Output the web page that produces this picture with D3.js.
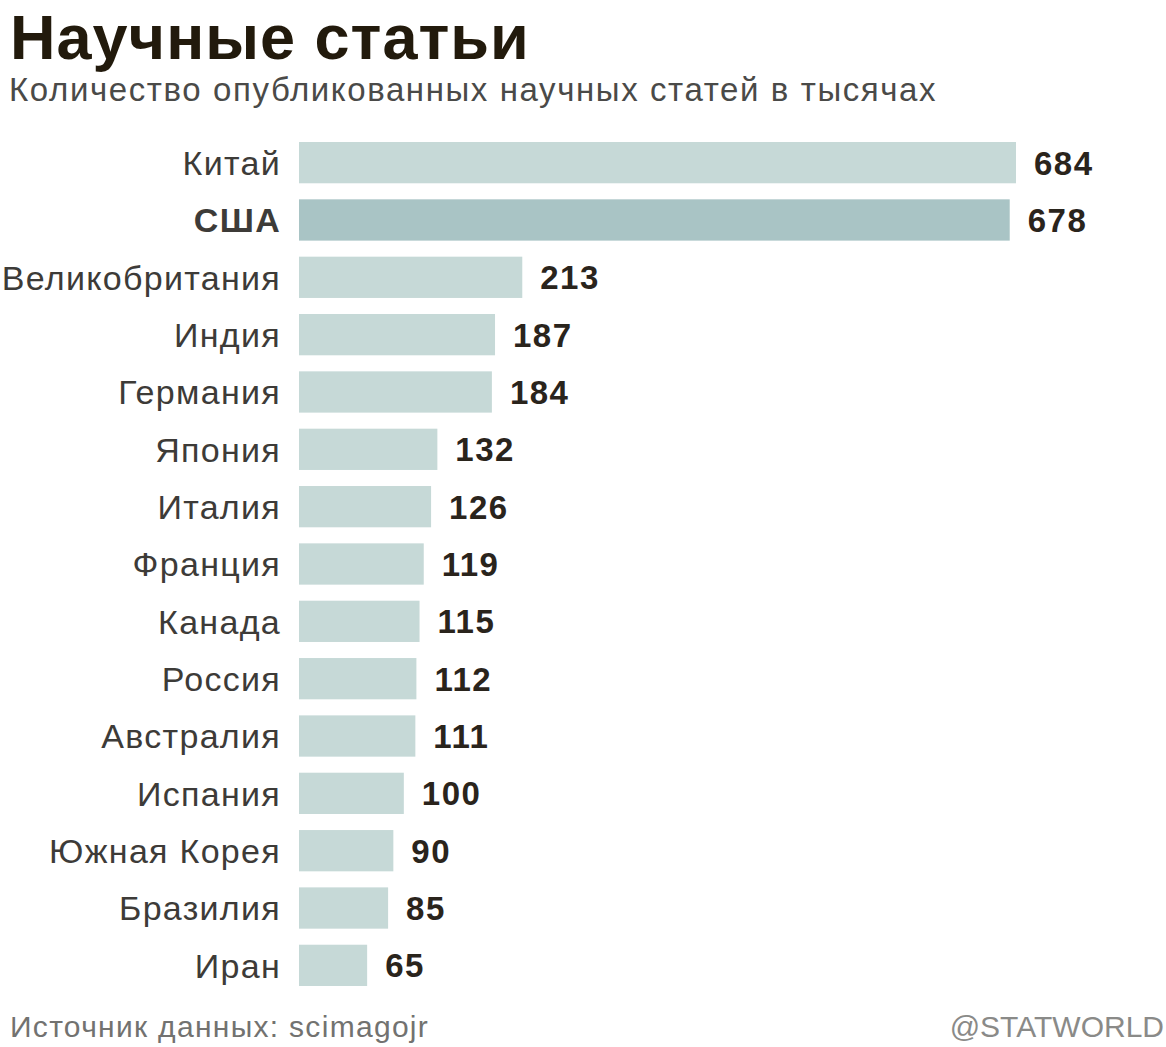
<!DOCTYPE html>
<html>
<head>
<meta charset="utf-8">
<script src="https://cdn.jsdelivr.net/npm/d3@7"></script>
<style>
  body { margin: 0; background: #fff; }
  svg { display: block; font-family: "Liberation Sans", Arial, sans-serif; }
</style>
</head>
<body>
<div id="chart"></div>
<script>
const countries = ["Китай", "США", "Великобритания", "Индия", "Германия", "Япония", "Италия",
  "Франция", "Канада", "Россия", "Австралия", "Испания", "Южная Корея", "Бразилия", "Иран"];
const articles = [684, 678, 213, 187, 184, 132, 126, 119, 115, 112, 111, 100, 90, 85, 65];
const highlight = "США";

const width = 1166,
  height = 1047,
  margin = { top: 142, right: 150, bottom: 61, left: 299 };

const data = countries.map((c, i) => ({ country: c, value: articles[i] }));

const svg = d3.select("#chart")
  .append("svg")
  .attr("width", width)
  .attr("height", height)
  .attr("viewBox", [0, 0, width, height]);

let x = d3.scaleLinear([0, 684], [margin.left, 1016]);

let y = d3.scaleBand(countries, [margin.top, height - margin.bottom])
  .paddingInner(0.28)
  .paddingOuter(0.0);

// title + subtitle
svg.append("text")
  .attr("x", 10)
  .attr("y", 59)
  .attr("font-size", 63)
  .attr("letter-spacing", 1)
  .attr("font-weight", "bold")
  .attr("fill", "#221a0c")
  .text("Научные статьи");

svg.append("text")
  .attr("x", 9)
  .attr("y", 101)
  .attr("font-size", 33)
  .attr("letter-spacing", 1.6)
  .attr("fill", "#4a4a48")
  .text("Количество опубликованных научных статей в тысячах");

let rows = svg.append("g")
  .selectAll("g")
  .data(data)
  .join("g");

rows.append("rect")
  .attr("x", x(0))
  .attr("y", d => y(d.country))
  .attr("width", d => x(d.value) - x(0))
  .attr("height", y.bandwidth())
  .attr("fill", d => d.country === highlight ? "#a9c4c5" : "#c6d9d7");

rows.append("text")
  .attr("x", x(0) - 18)
  .attr("y", d => y(d.country) + y.bandwidth() / 2)
  .attr("dy", "0.36em")
  .attr("text-anchor", "end")
  .attr("font-size", 34)
  .attr("letter-spacing", 1.3)
  .attr("font-weight", d => d.country === highlight ? "bold" : "normal")
  .attr("fill", "#3d3b38")
  .text(d => d.country);

rows.append("text")
  .attr("x", d => x(d.value) + 18)
  .attr("y", d => y(d.country) + y.bandwidth() / 2)
  .attr("dy", "0.36em")
  .attr("font-size", 33)
  .attr("letter-spacing", 1.5)
  .attr("font-weight", "bold")
  .attr("fill", "#2a241c")
  .text(d => d.value);

// footer
svg.append("text")
  .attr("x", 10)
  .attr("y", 1037)
  .attr("font-size", 30)
  .attr("letter-spacing", 1.3)
  .attr("fill", "#727270")
  .text("Источник данных: scimagojr");

svg.append("text")
  .attr("x", 1164)
  .attr("y", 1037)
  .attr("text-anchor", "end")
  .attr("font-size", 30)
  .attr("fill", "#8a8a88")
  .text("@STATWORLD");
</script>
</body>
</html>
